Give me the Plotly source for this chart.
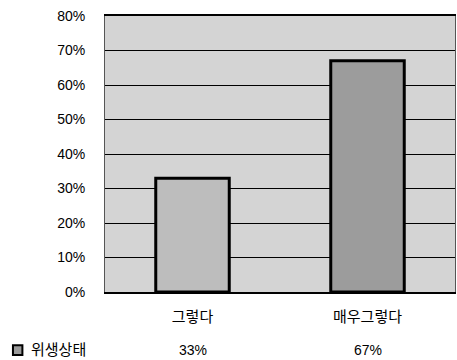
import plotly.graph_objects as go

categories = ["그렇다", "매우그렇다"]
values = [33, 67]
series_name = "위생상태"
y_ticks = [0, 10, 20, 30, 40, 50, 60, 70, 80]
y_tick_labels = ["0%", "10%", "20%", "30%", "40%", "50%", "60%", "70%", "80%"]
table_labels = ["33%", "67%"]

FONT = "Liberation Sans, Noto Sans CJK KR, sans-serif"

fig = go.Figure()
fig.add_trace(go.Bar(
    x=categories, y=values, name=series_name,
    marker=dict(color=["#bdbdbd", "#9c9c9c"], line=dict(color="black", width=3)),
    width=0.42, showlegend=False,
))

# data-table row below the chart
for cat, lab in zip(categories, table_labels):
    fig.add_annotation(x=cat, xref="x", y=-0.21, yref="paper", text=lab,
                       showarrow=False, font=dict(size=14, color="black", family=FONT),
                       yanchor="middle")
fig.add_annotation(x=-0.216, xref="paper", y=-0.21, yref="paper", text=series_name,
                   showarrow=False, xanchor="left", yanchor="middle",
                   font=dict(size=15, color="black", family=FONT))
fig.add_shape(type="rect", xref="paper", yref="paper",
              x0=-0.263, x1=-0.236, y0=-0.228, y1=-0.193,
              fillcolor="#9a9a9a", line=dict(color="black", width=2))

fig.update_layout(
    width=457, height=360,
    margin=dict(l=105, r=2, t=16, b=68),
    paper_bgcolor="white", plot_bgcolor="#d4d4d4",
    font=dict(family=FONT, size=14, color="black"),
    bargap=0.58,
)
fig.update_yaxes(range=[0, 80], tickvals=y_ticks, ticktext=y_tick_labels,
                 showgrid=True, gridcolor="black", gridwidth=1,
                 ticks="", ticklabelstandoff=16, zeroline=False,
                 showline=True, linecolor="#555555", linewidth=1, mirror=True)
fig.update_xaxes(ticks="", ticklabelstandoff=10, showline=True,
                 linecolor="black", linewidth=2, mirror=True,
                 tickfont=dict(size=15))

fig.write_html("out.html", config={"displayModeBar": False},
               post_script="document.body.style.margin='0px';")
